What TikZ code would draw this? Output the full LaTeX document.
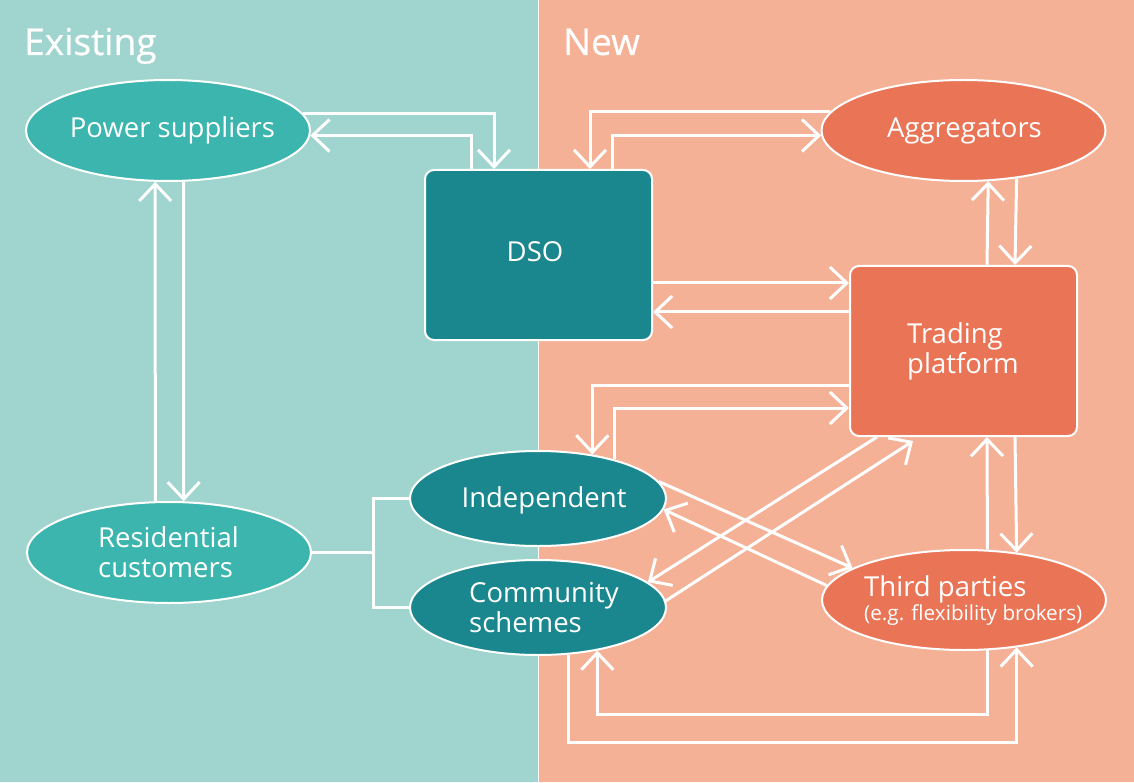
\documentclass[tikz,border=0pt]{standalone}
\usepackage{fontspec}
\setmainfont{Open Sans}
\newfontfamily\titlefont[FakeBold=0.5]{Open Sans}
\usetikzlibrary{shapes.geometric,arrows.meta}
\pgfdeclarelayer{bg}
\pgfdeclarelayer{edges}
\pgfsetlayers{bg,edges,main}
\definecolor{bgL}{HTML}{A0D4CE}
\definecolor{bgR}{HTML}{F4B196}
\definecolor{tealM}{HTML}{3BB5AE}
\definecolor{tealD}{HTML}{1A878F}
\definecolor{orng}{HTML}{EA7556}
\begin{document}
\begin{tikzpicture}[x=1pt,y=-1pt,
  ell/.style={ellipse, draw=white, line width=2pt, inner sep=0pt},
  bigell/.style={ell, minimum width=284pt, minimum height=101pt},
  smell/.style={ell, fill=tealD, minimum width=256pt, minimum height=95pt},
  box/.style={rectangle, rounded corners=9pt, draw=white, line width=2pt, inner sep=0pt, minimum width=227pt, minimum height=170pt},
  lbl/.style={text=white, font=\fontsize{27.5}{30}\selectfont, inner sep=0pt, anchor=base},
  lblw/.style={lbl, anchor=base west},
  ttl/.style={text=white, font=\titlefont\fontsize{37}{40}\selectfont, inner sep=0pt, anchor=base west},
  ln/.style={draw=white, line width=3pt},
  arr/.style={ln, -{Straight Barb[length=17pt,width=32pt,line width=3pt]}}]
\useasboundingbox (0,0) rectangle (1134,783);
\begin{pgfonlayer}{bg}
  \fill[bgL] (0,0) rectangle (538.5,783);
  \fill[bgR] (538.5,0) rectangle (1134,783);
  \draw[white, line width=1.2pt] (538.5,0) -- (538.5,783);
  \draw[white, line width=1pt] (0,782.5) -- (1134,782.5);
\end{pgfonlayer}

% titles
\node[ttl] (tExist) at (24,55) {Existing};
\node[ttl] (tNew) at (563,55) {New};

% nodes
\node[bigell, fill=tealM] (ps) at (168,130.5) {};
\node[bigell, fill=orng] (agg) at (963.5,130.5) {};
\node[bigell, fill=tealM] (res) at (169,552.5) {};
\node[smell] (ind) at (538,498.5) {};
\node[smell] (com) at (538,607.5) {};
\node[bigell, fill=orng, minimum height=100pt] (tp) at (964,600) {};
\node[box, fill=tealD] (dso) at (538.5,255) {};
\node[box, fill=orng] (trd) at (963.5,351) {};

% labels
\node[lbl] (psT) at (172.5,138) {Power suppliers};
\node[lbl] (aggT) at (964.5,138) {Aggregators};
\node[lbl] (dsoT) at (535,262) {DSO};
\node[lblw] (trdT1) at (907,343) {Trading};
\node[lblw] (trdT2) at (907,373) {platform};
\node[lblw] (resT1) at (98,547) {Residential};
\node[lblw] (resT2) at (98,577) {customers};
\node[lbl] (indT) at (544,507) {Independent};
\node[lblw] (comT1) at (469,602) {Community};
\node[lblw] (comT2) at (469,632) {schemes};
\node[lblw] (tpT1) at (864,596) {Third parties};
\node[lblw, font=\fontsize{20.7}{24}\selectfont] (tpT2) at (864,620) {(e.g. flexibility brokers)};

\begin{pgfonlayer}{edges}
  % Power suppliers <-> DSO
  \draw[arr] (ps.7.25) -| ([xshift=-44.5pt]dso.north);
  \draw[arr] ([xshift=-67.5pt]dso.north) |- (ps.-2.44);
  % Power suppliers <-> Residential
  \draw[arr] (res.105.6) -- (ps.-104.5);
  \draw[arr] (ps.-73.4) -- (res.74.4);
  % Aggregators <-> DSO
  \draw[arr] (agg.172.5) -| ([xshift=51.5pt]dso.north);
  \draw[arr] ([xshift=73.5pt]dso.north) |- (agg.182.6);
  % Aggregators <-> Trading
  \draw[arr] ([xshift=23.5pt]trd.north) -- (agg.-64.7);
  \draw[arr] (agg.-42.4) -- ([xshift=51.5pt]trd.north);
  % DSO <-> Trading
  \coordinate (d1) at ([yshift=-28pt]dso.east);
  \coordinate (d2) at ([yshift=39pt]trd.west);
  \draw[arr] (d1) -- (d1 -| trd.west);
  \draw[arr] (d2) -- (d2 -| dso.east);
  % Trading <-> Independent
  \coordinate (t1) at ([yshift=-34pt]trd.west);
  \coordinate (t2) at ([yshift=-57pt]trd.west);
  \draw[arr] (t1) -| (ind.39.85);
  \draw[arr] (ind.27.7) |- (t2);
  % Trading <-> Third parties
  \draw[arr] (tp.65) -- ([xshift=23.5pt]trd.south);
  \draw[arr] ([xshift=51.5pt]trd.south) -- (tp.42.5);
  % diagonals
  \draw[arr] (ind.8.8) -- (tp.164.9);
  \draw[arr] (tp.174.6) -- (ind.-5.1);
  \draw[arr] ([xshift=-86.5pt]trd.south) -- (com.13.8);
  \draw[arr] (com.3.3) -- ([xshift=-50.5pt,yshift=-4pt]trd.south);
  % Community <-> Third parties
  \draw[arr] (com.-57.9) -- ++(0,88) -| (tp.-42.5);
  \draw[arr] (tp.-65) -- ++(0,64) -| (com.-36.7);
  % Residential bracket
  \draw[ln] (res.east) -- ++(63,0);
  \draw[ln] (ind.west) -- ++(-36,0) |- (com.west);
\end{pgfonlayer}
\end{tikzpicture}
\end{document}
